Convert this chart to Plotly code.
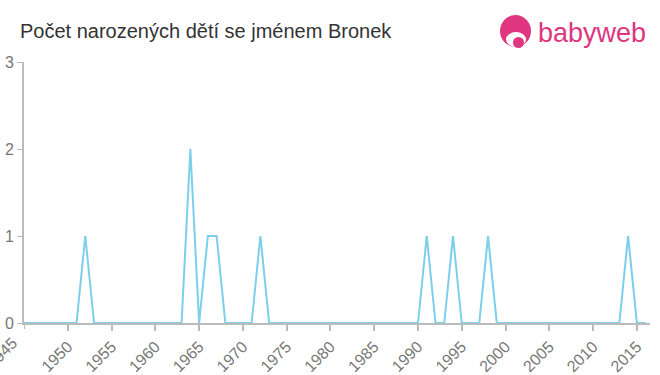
import plotly.graph_objects as go

years = list(range(1945, 2017))
nonzero = {1952: 1, 1964: 2, 1966: 1, 1967: 1, 1972: 1, 1991: 1, 1994: 1, 1998: 1, 2014: 1}
counts = [nonzero.get(y, 0) for y in years]
tick_years = list(range(1945, 2020, 5))

L, R, T, B = 24, 10, 62, 52
PW, PH = 660 - L - R, 375 - T - B

def px(x):
    return (x - L) / PW

def py(y):
    return (375 - B - y) / PH

fig = go.Figure()
fig.add_trace(go.Scatter(x=years, y=counts, mode="lines",
                         line=dict(color="#7ccfea", width=2), hoverinfo="x+y"))

fig.update_layout(
    width=660, height=375,
    margin=dict(l=L, r=R, t=T, b=B),
    plot_bgcolor="white", paper_bgcolor="white",
    showlegend=False,
    font=dict(family="Liberation Sans, Arial, sans-serif", color="#777"),
    title=dict(text="Počet narozených dětí se jménem Bronek", x=20/660, xanchor="left",
               y=1 - 31/375, yanchor="middle",
               font=dict(size=20, color="#333", family="Liberation Sans, Arial, sans-serif")),
)
fig.update_xaxes(range=[1945, 2016.5], tickvals=tick_years[1:], ticktext=[str(t) for t in tick_years[1:]],
                 tickangle=-45, showline=True, linecolor="#bbb", linewidth=2,
                 ticks="outside", tickcolor="#bbb", ticklen=6, tickwidth=2, automargin=False,
                 showgrid=False, zeroline=False, tickfont=dict(size=16, color="#777"))
fig.update_yaxes(range=[0, 3], tickvals=[0, 1, 2, 3], showline=True, linecolor="#bbb", linewidth=2,
                 ticks="outside", tickcolor="#bbb", ticklen=5, tickwidth=1, automargin=False,
                 showgrid=False, zeroline=False, tickfont=dict(size=16, color="#777"))

# first tick (1945) label, partly cut off at the left edge as in the reference
fig.add_shape(type="line", xref="x", yref="paper", x0=tick_years[0], x1=tick_years[0],
              y0=0, y1=-6/PH, line=dict(color="#bbb", width=2))
fig.add_annotation(text=str(tick_years[0]), xref="x", yref="paper", x=tick_years[0], y=-8/PH,
                   xanchor="right", yanchor="top", textangle=-45, showarrow=False,
                   font=dict(size=16, color="#777", family="Liberation Sans, Arial, sans-serif"))

# logo
pink = "#e0357f"
fig.add_shape(type="circle", xref="paper", yref="paper",
              x0=px(500), x1=px(531), y0=py(47), y1=py(15),
              fillcolor=pink, line=dict(width=0), layer="above")
fig.add_shape(type="circle", xref="paper", yref="paper",
              x0=px(506), x1=px(526), y0=py(47), y1=py(32),
              fillcolor="white", line=dict(width=0), layer="above")
fig.add_shape(type="circle", xref="paper", yref="paper",
              x0=px(513), x1=px(524), y0=py(48), y1=py(37),
              fillcolor=pink, line=dict(width=0), layer="above")
fig.add_annotation(text="babyweb", xref="paper", yref="paper",
                   x=px(536), y=py(33), xanchor="left", yanchor="middle",
                   showarrow=False, font=dict(size=27, color=pink, family="Liberation Sans, Arial, sans-serif"))

fig.write_html("out.html")
